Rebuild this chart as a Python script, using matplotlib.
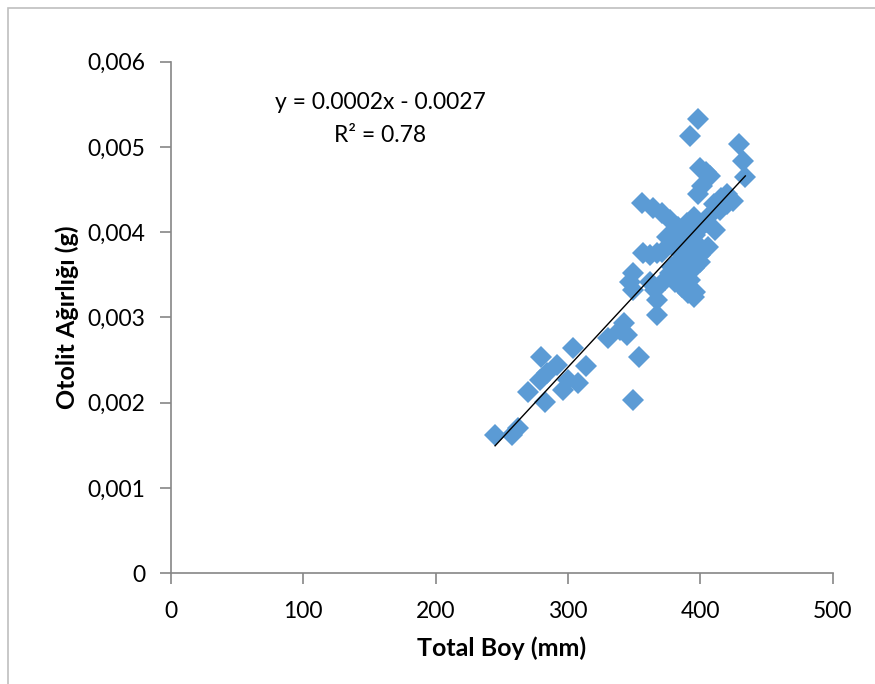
import matplotlib.pyplot as plt
import matplotlib.patches as patches
import numpy as np

plt.rcParams['font.family'] = ['Lato', 'DejaVu Sans']

# Total boy (mm)
boy = [245, 258, 262, 270, 280, 283, 279, 284, 292, 296, 304, 300, 308, 314,
       330, 339, 342, 345, 354, 349,
       398, 392, 429, 432, 434, 400, 407, 404, 398, 401, 416, 420, 425, 420,
       410, 415, 356, 364, 371, 377, 383, 390, 395, 375, 379, 357, 362, 367,
       371, 406, 390, 392, 390, 385, 379, 377, 349, 347, 349, 362, 366, 367,
       367, 381, 386, 391, 395, 396, 387, 396, 400, 404, 407, 392, 398, 400,
       395, 387, 383, 379, 373, 392, 411, 400]
# Otolit agirligi (g)
agirlik = [0.00162, 0.00162, 0.00170, 0.00213, 0.00254, 0.00201, 0.00227,
           0.00235, 0.00244, 0.00215, 0.00264, 0.00227, 0.00223, 0.00243,
           0.00276, 0.00285, 0.00294, 0.00280, 0.00254, 0.00203,
           0.00533, 0.00513, 0.00503, 0.00484, 0.00465, 0.00475, 0.00466,
           0.00471, 0.00445, 0.00454, 0.00440, 0.00445, 0.00437, 0.00433,
           0.00433, 0.00426, 0.00434, 0.00429, 0.00422, 0.00414, 0.00406,
           0.00411, 0.00418, 0.00394, 0.00399, 0.00376, 0.00373, 0.00376,
           0.00377, 0.00383, 0.00383, 0.00371, 0.00359, 0.00367, 0.00359,
           0.00352, 0.00352, 0.00342, 0.00332, 0.00342, 0.00332, 0.00321,
           0.00303, 0.00342, 0.00336, 0.00329, 0.00324, 0.00330, 0.00391,
           0.00397, 0.00405, 0.00412, 0.00420, 0.00391, 0.00385, 0.00373,
           0.00358, 0.00350, 0.00379, 0.00385, 0.00344, 0.00344, 0.00403,
           0.00365]

x_ticks = [0, 100, 200, 300, 400, 500]
y_ticks = [0, 0.001, 0.002, 0.003, 0.004, 0.005, 0.006]
y_tick_labels = ['0', '0,001', '0,002', '0,003', '0,004', '0,005', '0,006']

fig = plt.figure(figsize=(8.75, 6.84), dpi=100)
ax = fig.add_axes([170.7 / 875, 1 - 573.3 / 684, (832.7 - 170.7) / 875, (573.3 - 61.7) / 684])

# chart border
fig.add_artist(patches.Rectangle((8 / 875, -0.05), 1.2, 1 - 8 / 684 + 0.05,
                                 transform=fig.transFigure, fill=False,
                                 edgecolor='#BFBFBF', linewidth=1.2))

ax.plot(boy, agirlik, linestyle='none', marker='D', markersize=11.5,
        color='#5B9BD5', markeredgewidth=0)

# linear trendline
coef = np.polyfit(boy, agirlik, 1)
xs = np.array([min(boy), max(boy)])
ax.plot(xs, np.polyval(coef, xs), color='black', linewidth=1)

ax.set_xlim(0, 500)
ax.set_ylim(0, 0.006)
ax.set_xticks(x_ticks)
ax.set_xticklabels([str(v) for v in x_ticks])
ax.set_yticks(y_ticks)
ax.set_yticklabels(y_tick_labels)

for s in ['top', 'right']:
    ax.spines[s].set_visible(False)
for s in ['left', 'bottom']:
    ax.spines[s].set_color('#868686')
    ax.spines[s].set_linewidth(1.2)
ax.tick_params(axis='both', colors='#868686', length=8, width=1.2,
               labelcolor='black', labelsize=16.5)
ax.tick_params(axis='x', pad=12)
ax.tick_params(axis='y', pad=10)

ax.set_xlabel('Total Boy (mm)', fontsize=18, fontweight='bold', labelpad=10)
ax.set_ylabel('Otolit Ağırlığı (g)', fontsize=18, fontweight='bold', labelpad=6)

ax.text(158, 0.00552, 'y = 0.0002x - 0.0027', fontsize=16.5, ha='center', va='center')
ax.text(158, 0.00513, 'R² = 0.78', fontsize=16.5, ha='center', va='center')

fig.savefig('out.png', dpi=100)
